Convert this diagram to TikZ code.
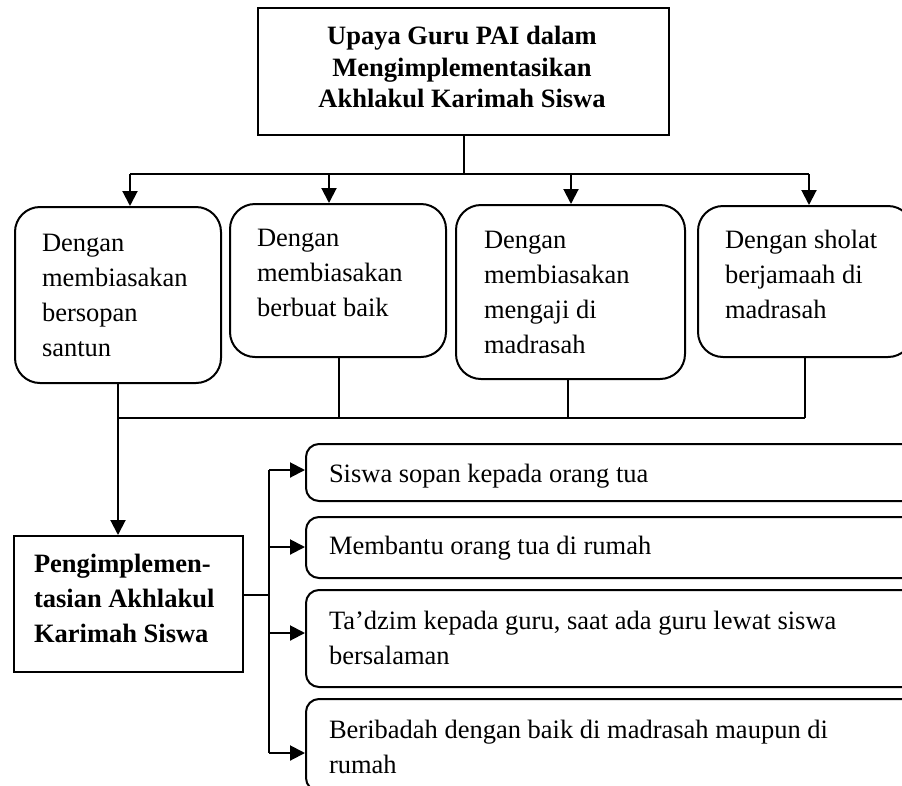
\documentclass[tikz,border=0pt]{standalone}
\usepackage{fontspec}
\setmainfont{Liberation Serif}
\usetikzlibrary{arrows.meta}
\begin{document}
\begin{tikzpicture}[x=1pt,y=-1pt,
  line width=2pt,
  arr/.style={-{Triangle[length=15pt,width=15pt]}},
  topbox/.style={draw, rounded corners=25pt, inner sep=0pt, anchor=north west},
  itembox/.style={draw, rounded corners=13pt, inner sep=0pt, anchor=north west, minimum width=620pt},
  sqbox/.style={draw, inner sep=0pt, anchor=north west},
  txt/.style={font=\fontsize{26.5}{35}\selectfont, inner sep=0pt, align=left, anchor=north west},
  btxt/.style={font=\fontsize{26.5}{35}\selectfont\bfseries, inner sep=0pt, align=left, anchor=north west},
  ttxt/.style={font=\fontsize{26.5}{31.5}\selectfont\bfseries, inner sep=0pt, align=center, anchor=north}
]
\useasboundingbox (0,0) rectangle (902,785);
\clip (0,0) rectangle (902,785);

% title
\node[sqbox, minimum width=411pt, minimum height=127pt] (top) at (257,7) {};
\node[ttxt] (toptxt) at (462,21.5) {\strut Upaya Guru PAI dalam\\ Mengimplementasikan\\ Akhlakul Karimah Siswa};

% four method boxes
\node[topbox, minimum width=206pt, minimum height=176pt] (b1) at (14,206) {};
\node[topbox, minimum width=216pt, minimum height=153pt] (b2) at (229,203) {};
\node[topbox, minimum width=229pt, minimum height=174pt] (b3) at (455,204) {};
\node[topbox, minimum width=215pt, minimum height=151pt] (b4) at (697,205) {};
\node[txt] (t1) at (41,225.5) {\strut Dengan\\ membiasakan\\ bersopan\\ santun};
\node[txt] (t2) at (256,220.5) {\strut Dengan\\ membiasakan\\ berbuat baik};
\node[txt] (t3) at (483,222.5) {\strut Dengan\\ membiasakan\\ mengaji di\\ madrasah};
\node[txt] (t4) at (724,222.5) {\strut Dengan sholat\\ berjamaah di\\ madrasah};

% result box
\node[sqbox, minimum width=229pt, minimum height=136pt] (bl) at (13,535) {};
\node[btxt] (bltxt) at (33,546.5) {\strut Pengimplemen-\\ tasian Akhlakul\\ Karimah Siswa};

% item boxes
\node[itembox, minimum height=57pt] (r1) at (305,443) {};
\node[itembox, minimum height=61pt] (r2) at (305,516) {};
\node[itembox, minimum height=97pt] (r3) at (305,589) {};
\node[itembox, minimum height=92pt] (r4) at (305,698) {};
\node[txt] (rt1) at (328,456.5) {\strut Siswa sopan kepada orang tua};
\node[txt] (rt2) at (328,528.5) {\strut Membantu orang tua di rumah};
\node[txt] (rt3) at (328,603.5) {\strut Ta’dzim kepada guru, saat ada guru lewat siswa\\ bersalaman};
\node[txt] (rt4) at (328,712.5) {\strut Beribadah dengan baik di madrasah maupun di\\ rumah};

% top bus
\coordinate (a1) at (130,174);
\coordinate (a2) at (329,174);
\coordinate (a3) at (571,174);
\coordinate (a4) at (809,174);
\draw (top.south) -- (top.south |- a1);
\draw (a1) -- (a4);
\draw[arr] (a1) -- (a1 |- b1.north);
\draw[arr] (a2) -- (a2 |- b2.north);
\draw[arr] (a3) -- (a3 |- b3.north);
\draw[arr] (a4) -- (a4 |- b4.north);

% bottom bus
\coordinate (c1) at (118,418);
\coordinate (c2) at (339,418);
\coordinate (c3) at (568,418);
\coordinate (c4) at (805,418);
\draw (c1 |- b1.south) -- (c1);
\draw (c2 |- b2.south) -- (c2);
\draw (c3 |- b3.south) -- (c3);
\draw (c4 |- b4.south) -- (c4);
\draw (c1) -- (c4);
\draw[arr] (c1) -- (c1 |- bl.north);

% item branches
\coordinate (s1) at (269,470);
\coordinate (s2) at (269,547);
\coordinate (s3) at (269,633);
\coordinate (s4) at (269,753);
\coordinate (sj) at (269,595);
\draw (bl.east |- sj) -- (sj);
\draw (s1) -- (s4);
\draw[arr] (s1) -- (s1 -| r1.west);
\draw[arr] (s2) -- (s2 -| r2.west);
\draw[arr] (s3) -- (s3 -| r3.west);
\draw[arr] (s4) -- (s4 -| r4.west);
\end{tikzpicture}
\end{document}
